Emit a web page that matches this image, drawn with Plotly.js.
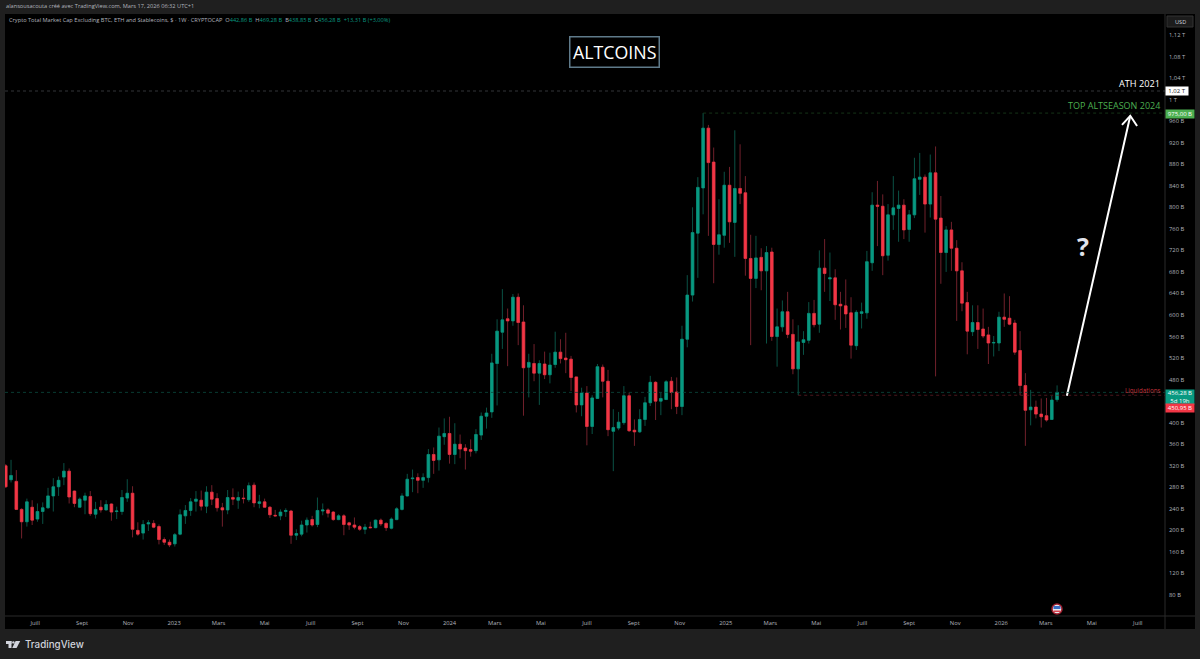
<!DOCTYPE html>
<html><head><meta charset="utf-8">
<script src="https://cdn.plot.ly/plotly-3.0.1.min.js"></script>
<style>html,body{margin:0;padding:0;background:#1f1f1f}#c{width:1200px;height:659px}</style>
</head><body><div id="c"></div>
<script>
const openB=[320,294,291,239,216,243,221,235,242,264,
281,299,310,273,243,256,263,230,243,238,
249,235,235,260,269,200,195,212,213,207,
183,178,175,193,227,237,254,256,245,271,
259,242,238,261,256,260,257,284,250,253,
243,228,227,235,236,191,193,210,220,211,
236,238,234,220,227,214,210,207,202,206,
205,219,213,204,220,239,264,296,298,293,
298,341,331,374,380,341,360,353,350,348,
377,412,420,510,568,593,589,633,587,503,
510,492,509,489,508,531,520,518,485,433,
455,393,445,503,477,384,390,400,450,386,
383,406,437,475,440,443,477,457,430,555,
637,752,836,947,884,731,748,841,772,835,
827,705,668,707,682,717,560,578,606,564,
500,549,553,603,583,687,667,669,620,617,
604,543,603,604,697,804,802,711,786,798,
804,759,786,852,856,806,864,780,716,758,
724,682,623,569,586,574,563,548,548,596,
594,585,534,469,424,429,416,413,406,442.86];
const highB=[323,331,312,241,259,256,250,252,279,297,
300,325,315,274,261,270,273,253,256,256,
250,244,275,295,282,215,219,219,219,211,
187,183,195,239,247,260,273,274,282,284,
269,251,275,278,272,277,289,289,266,259,
245,238,239,241,238,202,218,224,227,261,
250,241,236,230,230,216,224,210,212,216,
220,222,215,224,243,269,305,313,306,306,
351,354,391,408,411,399,378,360,369,388,
419,428,528,592,648,612,639,640,618,528,
546,516,532,530,569,555,567,524,485,465,
468,451,509,508,498,425,420,468,456,406,
425,448,487,477,456,479,485,484,580,674,
800,856,975,953,911,815,866,875,943,917,
858,749,747,724,728,725,612,627,643,592,
581,570,624,628,720,741,716,685,643,666,
633,609,623,719,828,849,824,806,858,831,
815,795,892,901,861,898,913,821,765,773,
739,698,643,618,618,612,578,561,606,640,
635,591,570,492,461,441,445,446,450,469.28];
const lowB=[279,289,238,185,207,210,216,212,240,235,
264,284,250,243,243,230,227,222,233,237,
218,221,229,253,187,190,183,199,204,174,
173,169,170,191,212,227,235,237,232,247,
235,207,230,247,240,250,253,243,241,243,
223,226,219,225,175,182,189,196,207,206,
228,224,218,219,191,201,202,199,193,204,
204,208,199,202,219,237,263,271,269,279,
289,305,311,359,324,323,334,313,337,343,
368,389,409,432,537,505,580,544,413,447,
477,433,481,473,502,510,492,459,419,412,
358,379,444,447,375,310,386,396,383,357,
381,394,431,405,414,442,425,416,414,540,
625,669,787,747,659,712,725,734,708,806,
673,544,650,646,547,552,504,569,557,490,
451,526,547,577,567,643,626,591,573,576,
519,535,575,593,682,728,674,701,758,736,
741,736,780,823,753,781,486,658,680,682,
589,607,527,561,537,557,509,523,533,578,
581,526,451,357,395,408,391,402,405,438.85];
const closeB=[281,302,239,216,253,219,235,242,264,281,
293,310,262,250,258,264,231,239,238,248,
234,236,261,269,202,193,211,214,206,183,
178,173,192,229,237,253,258,245,271,258,
242,238,261,258,261,259,283,251,253,243,
229,227,234,237,191,194,210,219,210,237,
238,232,220,227,211,210,206,202,206,205,
219,212,205,221,240,264,295,297,293,298,
341,330,375,380,341,360,351,348,347,378,
412,418,511,570,591,589,633,586,502,512,
492,510,489,507,531,519,517,484,433,455,
393,446,504,477,387,391,401,450,385,383,
406,437,475,440,445,476,456,430,555,637,
753,837,947,883,731,749,841,773,835,826,
705,668,706,682,716,560,578,606,564,500,
550,554,603,582,687,677,669,619,617,602,
544,605,606,699,804,802,710,786,799,804,
758,786,853,856,806,864,778,716,758,724,
682,622,570,586,573,561,548,549,596,592,
583,531,469,423,429,416,411,405,442,456.28];

const firstWeek='2022-05-23';
const xRange=['2022-05-22','2026-08-06'];
const yRange=[41,1159];
const xTickVals=['2022-07-01','2022-09-01','2022-11-01','2023-01-01','2023-03-01','2023-05-01','2023-07-01','2023-09-01','2023-11-01','2024-01-01','2024-03-01','2024-05-01','2024-07-01','2024-09-01','2024-11-01','2025-01-01','2025-03-01','2025-05-01','2025-07-01','2025-09-01','2025-11-01','2026-01-01','2026-03-01','2026-05-01','2026-07-01'];
const xTickText=['Juill','Sept','Nov','2023','Mars','Mai','Juill','Sept','Nov','2024','Mars','Mai','Juill','Sept','Nov','2025','Mars','Mai','Juill','Sept','Nov','2026','Mars','Mai','Juill'];
const yTickVals=[80,120,160,200,240,280,320,360,400,440,480,520,560,600,640,680,720,760,800,840,880,920,960,1000,1040,1080,1120];
const yTickText=['80 B','120 B','160 B','200 B','240 B','280 B','320 B','360 B','400 B','','480 B','520 B','560 B','600 B','640 B','680 B','720 B','760 B','800 B','840 B','880 B','920 B','960 B','1 T','1,04 T','1,08 T','1,12 T'];
const athLevel=1016, topLevel=975, lastLevel=456.28, liqLevel=450.95;
const arrowX=['2026-03-29','2026-06-21',null,'2026-06-10','2026-06-21','2026-06-30'];
const arrowY=[450,970,null,953,970,951];

const weeks=openB.map((_,i)=>new Date(Date.parse(firstWeek+'T00:00:00Z')+i*7*864e5).toISOString().slice(0,10));
const GREEN='#089981',RED='#f23645',TXT='#b2b5be';
const px=x=>(x-5)/1160, py=y=>(616-y)/602;

const traces=[
 {type:'candlestick',x:weeks,open:openB,high:highB,low:lowB,close:closeB,whiskerwidth:0,width:4.0e8,hoverinfo:'skip',
  increasing:{line:{color:'#0a5245',width:1},fillcolor:'#0a5245'},decreasing:{line:{color:'#71202b',width:1},fillcolor:'#71202b'}},
 {type:'candlestick',x:weeks,open:openB,close:closeB,
  high:openB.map((o,i)=>Math.max(o,closeB[i])),low:openB.map((o,i)=>Math.min(o,closeB[i])),
  whiskerwidth:0,width:4.0e8,hoverinfo:'skip',
  increasing:{line:{color:GREEN,width:0.5},fillcolor:GREEN},decreasing:{line:{color:RED,width:0.5},fillcolor:RED}},
 {type:'scatter',mode:'lines',x:arrowX,y:arrowY,line:{color:'#ffffff',width:2},hoverinfo:'skip',connectgaps:false}
];

const box=(x0,x1,y0,y1,fill,line)=>({type:'rect',xref:'paper',yref:'paper',x0:px(x0),x1:px(x1),y0:py(y1),y1:py(y0),fillcolor:fill,line:line?{color:line,width:1}:{width:0},layer:'below'});
const logo='#d1d4dc';
const shapes=[
 box(1165,1195,14,629,'#000000'),
 box(5,1195,616,629,'#000000'),
 {type:'line',xref:'paper',yref:'paper',x0:px(1165),x1:px(1165),y0:py(14),y1:py(629),line:{color:'#2a2a2a',width:1}},
 {type:'line',xref:'paper',yref:'paper',x0:px(5),x1:px(1195),y0:py(616),y1:py(616),line:{color:'#2a2a2a',width:1}},
 box(1167,1193,16,27,'#1c1c1c','#333333'),
 {type:'line',xref:'paper',yref:'y',x0:0,x1:1,y0:athLevel,y1:athLevel,line:{color:'#3f4147',width:0.8,dash:'dot'}},
 {type:'line',xref:'x',yref:'y',x0:'2024-12-02',x1:xRange[1],y0:topLevel,y1:topLevel,line:{color:'#1a3f1d',width:0.8,dash:'dot'}},
 {type:'line',xref:'paper',yref:'y',x0:0,x1:1,y0:lastLevel,y1:lastLevel,line:{color:'#0b4a3e',width:0.8,dash:'dot'}},
 {type:'line',xref:'x',yref:'y',x0:'2025-04-07',x1:xRange[1],y0:liqLevel,y1:liqLevel,line:{color:'#5e1c24',width:0.8,dash:'dot'}},
 // economic-event flag
 {type:'circle',xref:'paper',yref:'paper',x0:px(1052),x1:px(1062),y0:py(614),y1:py(604),fillcolor:'#e8e8ee',line:{color:'#a01f2e',width:1.5}},
 {type:'rect',xref:'paper',yref:'paper',x0:px(1053.5),x1:px(1060.5),y0:py(609),y1:py(606),fillcolor:'#3a6fc4',line:{width:0}},
 {type:'rect',xref:'paper',yref:'paper',x0:px(1053.5),x1:px(1060.5),y0:py(612),y1:py(610.5),fillcolor:'#d9434e',line:{width:0}},
 // TradingView mark
 {type:'rect',xref:'paper',yref:'paper',x0:px(6),x1:px(11.5),y0:py(644),y1:py(641),fillcolor:logo,line:{width:0}},
 {type:'rect',xref:'paper',yref:'paper',x0:px(8.5),x1:px(11.5),y0:py(648),y1:py(641),fillcolor:logo,line:{width:0}},
 {type:'circle',xref:'paper',yref:'paper',x0:px(12.2),x1:px(14.6),y0:py(643.6),y1:py(641.2),fillcolor:logo,line:{width:0}},
 {type:'path',xref:'paper',yref:'paper',path:`M ${px(15.6)} ${py(641)} L ${px(20.2)} ${py(641)} L ${px(16.6)} ${py(648)} L ${px(12.2)} ${py(648)} Z`,fillcolor:logo,line:{width:0}}
];

const F='"Open Sans", sans-serif';
const note=(text,x,y,size,color,anchor,extra)=>Object.assign({text:text,xref:'paper',yref:'paper',x:px(x),y:py(y),xanchor:anchor||'left',yanchor:'middle',showarrow:false,font:{family:F,size:size,color:color},borderpad:0},extra||{});
const tag=(text,y,h,w,bg,color,size)=>note(text,1165,y,size||6,color,'left',{bgcolor:bg,width:w,height:h,align:'center',valign:'middle'});

const annotations=[
 note('alansousacouta créé avec TradingView.com, Mars 17, 2026 06:32 UTC+1',5,6.5,5.65,'#b2b5be'),
 note('Crypto Total Market Cap Excluding BTC, ETH and Stablecoins, $ · 1W · CRYPTOCAP&nbsp; <span style="color:#b2b5be">O</span><span style="color:#089981">442,86 B</span>&nbsp; <span style="color:#b2b5be">H</span><span style="color:#089981">469,28 B</span>&nbsp; <span style="color:#b2b5be">B</span><span style="color:#089981">438,85 B</span>&nbsp; <span style="color:#b2b5be">C</span><span style="color:#089981">456,28 B</span>&nbsp; <span style="color:#089981">+13,31 B (+3,00%)</span>',8,19.5,5.65,'#b2b5be'),
 note('ALTCOINS',614.5,52,17.8,'#ffffff','center',{bordercolor:'#5f7a8a',borderwidth:1.5,borderpad:2.5,bgcolor:'#000000'}),
 note('ATH 2021',1160.5,83.5,9.2,'#ffffff','right'),
 note('TOP ALTSEASON 2024',1160.5,105.5,9,'#4caf50','right'),
 note('?',1083,246,25,'#e0e3eb','center',{font:{family:F,size:25,color:'#e0e3eb',weight:700}}),
 note('Liquidations',1161,390,6.2,'#c0303a','right'),
 note('USD',1180,21.5,5.6,'#d1d4dc','center'),
 tag('1,02 T',91,8,22,'#ffffff','#131722'),
 tag('975,00 B',114,8,28,'#4caf50','#ffffff'),
 tag('456,28 B<br>5d 19h',396.5,14,28,'#089981','#ffffff'),
 tag('450,95 B',408,8,28,'#f23645','#ffffff'),
 note('TradingView',24,644.5,9.8,'#d1d4dc','left',{font:{family:'Inter, sans-serif',size:9.8,color:'#d1d4dc',weight:500}})
];

const layout={
 width:1200,height:659,margin:{l:5,r:35,t:14,b:43,pad:0},
 paper_bgcolor:'#1f1f1f',plot_bgcolor:'#000000',showlegend:false,boxmode:'overlay',
 font:{family:F,color:TXT,size:5.8},
 xaxis:{type:'date',range:xRange,rangeslider:{visible:false},showgrid:false,zeroline:false,showline:false,ticks:'',
   tickmode:'array',tickvals:xTickVals,ticktext:xTickText,tickangle:0,tickfont:{family:F,size:5.8,color:TXT},ticklabelstandoff:2},
 yaxis:{type:'linear',side:'right',range:yRange,showgrid:false,zeroline:false,showline:false,ticks:'',
   tickmode:'array',tickvals:yTickVals,ticktext:yTickText,tickfont:{family:F,size:5.8,color:TXT},ticklabelstandoff:3},
 shapes:shapes,annotations:annotations
};
Plotly.newPlot('c',traces,layout,{displayModeBar:false,staticPlot:true});
</script></body></html>
